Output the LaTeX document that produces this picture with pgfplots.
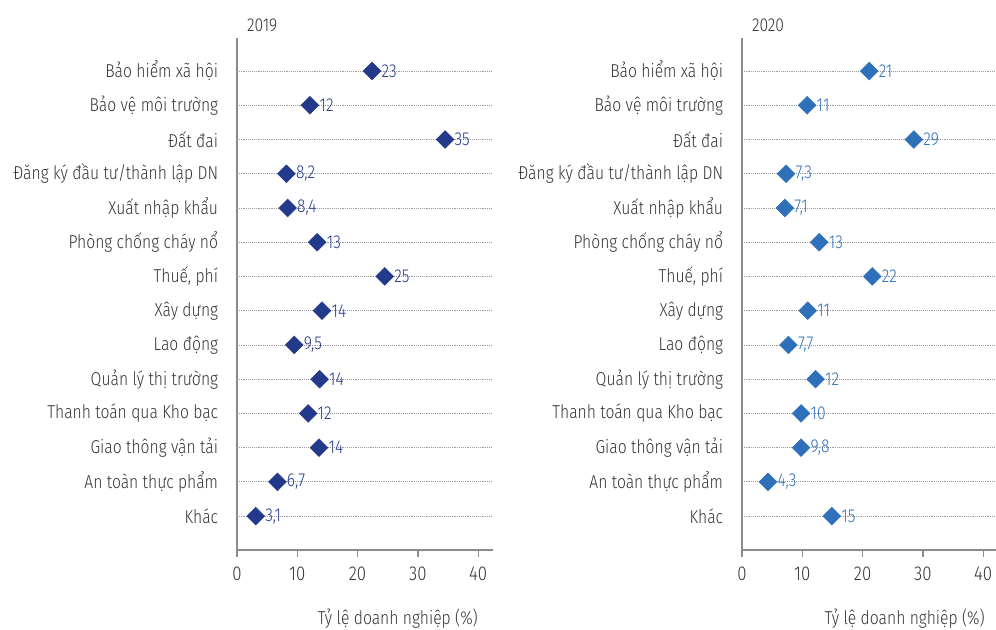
\documentclass[border=0pt]{standalone}
\usepackage{pgfplots}
\pgfplotsset{compat=1.18}
\usepackage{pgfplotstable}
\usepackage{fontspec}
\setmainfont{Fira Sans Light}[FakeStretch=0.84]

\definecolor{navy}{HTML}{23398A}
\definecolor{lblue}{HTML}{2E70B9}
\definecolor{axgray}{HTML}{8C8C8C}
\definecolor{txt}{HTML}{333333}

% x = share of firms, y = row (1 = top), lab = printed value
\pgfplotstableread{
x    y  lab
22.4 1  23
12.1 2  12
34.5 3  35
8.2  4  {8,2}
8.4  5  {8,4}
13.3 6  13
24.5 7  25
14.1 8  14
9.5  9  {9,5}
13.7 10 14
11.8 11 12
13.6 12 14
6.7  13 {6,7}
3.1  14 {3,1}
}\dataA
\pgfplotstableread{
x    y  lab
21.1 1  21
10.8 2  11
28.5 3  29
7.3  4  {7,3}
7.1  5  {7,1}
12.8 6  13
21.6 7  22
10.9 8  11
7.7  9  {7,7}
12.2 10 12
9.8  11 10
9.8  12 {9,8}
4.3  13 {4,3}
14.9 14 15
}\dataB

\pgfplotsset{
  panel/.style={
    scale only axis, height=384pt,
    xmin=0, ymin=0.035, ymax=14.99, y dir=reverse,
    axis x line*=bottom, axis y line*=left,
    axis line style={-, draw=axgray, line width=1pt},
    xtick={0,10,20,30,40}, ytick={1,...,14},
    yticklabels={Bảo hiểm xã hội, Bảo vệ môi trường, Đất đai,
      Đăng ký đầu tư/thành lập DN, Xuất nhập khẩu, Phòng chống cháy nổ,
      {Thuế, phí}, Xây dựng, Lao động, Quản lý thị trường,
      Thanh toán qua Kho bạc, Giao thông vận tải, An toàn thực phẩm, Khác},
    ymajorgrids, grid style={densely dotted, gray!80, line width=0.6pt},
    y tick style={draw=none},
    x tick style={draw=axgray, line width=1pt},
    tick align=outside, major tick length=5pt,
    /pgf/number format/assume math mode=true,
    tick label style={text=txt},
    xticklabel style={font=\fontsize{15}{17}\selectfont, yshift=-4.5pt},
    yticklabel style={font=\fontsize{14}{16}\selectfont, inner sep=0pt, xshift=-9pt},
    title style={at={(axis description cs:0,1)}, anchor=base west, xshift=4pt, yshift=-1pt,
      font=\fontsize{14}{16}\selectfont, text=txt},
    label style={font=\fontsize{14}{16}\selectfont, text=txt, inner sep=0pt},
    clip=false,
  },
  dots/.style={only marks, mark=square*, mark size=4.7pt,
    mark options={rotate=45, draw=#1, fill=#1},
    nodes near coords, point meta=explicit symbolic,
    nodes near coords style={anchor=west, inner sep=0pt, xshift=7pt,
      text=#1, font=\fontsize{14}{16}\selectfont}},
}

\begin{document}
\begin{tikzpicture}
\begin{axis}[panel, width=191.75pt, xmax=42.4, title={2019},
  xlabel={Tỷ lệ doanh nghiệp (\%)},
  xlabel style={at={(axis description cs:0.943,0)}, anchor=base east, yshift=-55.5pt}]
\addplot[dots=navy] table[x=x, y=y, meta=lab] {\dataA};
\end{axis}
\begin{axis}[panel, at={(378.75pt,0)}, width=190.4pt, xmax=42.1, title={2020},
  xlabel={Tỷ lệ doanh nghiệp (\%)},
  xlabel style={at={(axis description cs:0.957,0)}, anchor=base east, yshift=-55.5pt}]
\addplot[dots=lblue] table[x=x, y=y, meta=lab] {\dataB};
\end{axis}
\pgfresetboundingbox
\path[use as bounding box] (-177.75pt,-59.25pt) rectangle (569.25pt,412.5pt);
\end{tikzpicture}
\end{document}
